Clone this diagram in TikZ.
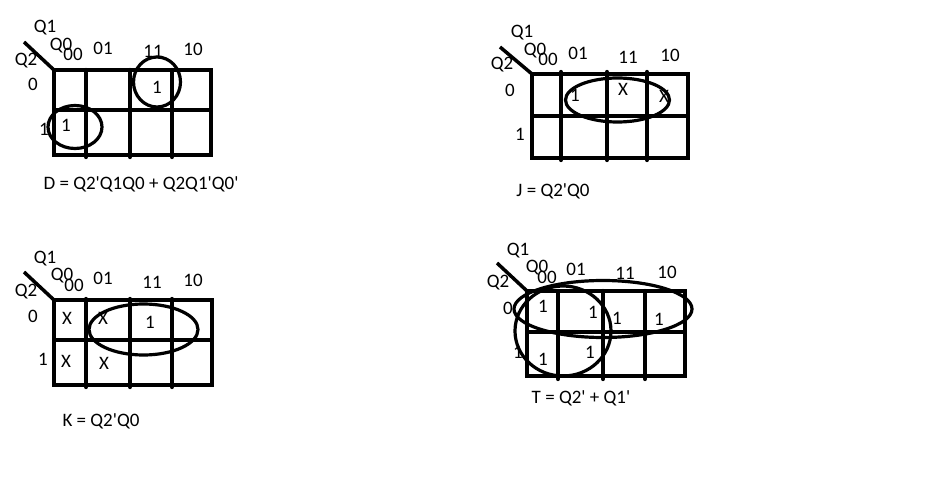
\documentclass[tikz,border=0pt]{standalone}
\usepackage{fontspec}
\setmainfont{Carlito}[Ligatures=TeXOff]
\begin{document}
\begin{tikzpicture}[x=1pt,y=-1pt,
  lbl/.style={inner sep=0pt,anchor=center,font=\fontsize{19}{22}\selectfont},
  grid/.style={line width=4.3pt},
  loop/.style={line width=3.2pt}]
\useasboundingbox[fill=white] (0,0) rectangle (946,484);
% ---------- D map ----------
\draw[grid] (54,70) rectangle (211,155);
\draw[grid] (54,110) -- (211,110);
\foreach \x in {86,130,172} \draw[grid,line cap=round] (\x,70) -- (\x,157);
\draw[line width=3.5pt] (24,42) -- (54,70);
\node[lbl] (d1) at (45,28) {Q1};
\node[lbl] (d2) at (61,46) {Q0};
\node[lbl] (d3) at (26,61) {Q2};
\node[lbl] (d4) at (73,54) {00};
\node[lbl] (d5) at (103,48) {01};
\node[lbl] (d6) at (153,51) {11};
\node[lbl] (d7) at (193,49) {10};
\node[lbl] (d8) at (33,84) {0};
\node[lbl] (d9) at (44,129) {1};
\node[lbl] (d10) at (157,87) {1};
\node[lbl] (d11) at (66,125) {1};
\draw[loop] (157,82) ellipse [x radius=23.5, y radius=25];
\draw[loop] (75,127) ellipse [x radius=27, y radius=21.5];
\node[lbl] (deq) at (141,184) {D = Q2'Q1Q0 + Q2Q1'Q0'};
% ---------- J map ----------
\draw[grid] (532,74) rectangle (688,158);
\draw[grid] (532,116) -- (688,116);
\foreach \x in {561,607,647} \draw[grid,line cap=round] (\x,72) -- (\x,160);
\draw[line width=3.5pt] (500,47) -- (532,74);
\node[lbl] (j1) at (522,33) {Q1};
\node[lbl] (j2) at (535,51) {Q0};
\node[lbl] (j3) at (502,65) {Q2};
\node[lbl] (j4) at (548,59) {00};
\node[lbl] (j5) at (578,53) {01};
\node[lbl] (j6) at (628,57) {11};
\node[lbl] (j7) at (670,55) {10};
\node[lbl] (j8) at (510,90) {0};
\node[lbl] (j9) at (520,134) {1};
\node[lbl] (j10) at (575,95) {1};
\node[lbl] (j11) at (623,89) {X};
\node[lbl] (j12) at (664,96) {X};
\draw[loop] (617.5,100) ellipse [x radius=52, y radius=22];
\node[lbl] (jeq) at (553,191) {J = Q2'Q0};
% ---------- K map ----------
\draw[grid] (54,300) rectangle (212,385);
\draw[grid] (54,340) -- (212,340);
\foreach \x in {86,130,172} \draw[grid,line cap=round] (\x,299) -- (\x,387);
\draw[line width=3.5pt] (24,272) -- (54,300);
\node[lbl] (k1) at (45,259) {Q1};
\node[lbl] (k2) at (62,276) {Q0};
\node[lbl] (k3) at (26,292) {Q2};
\node[lbl] (k4) at (74,285) {00};
\node[lbl] (k5) at (103,278) {01};
\node[lbl] (k6) at (152,282) {11};
\node[lbl] (k7) at (193,280) {10};
\node[lbl] (k8) at (33,316) {0};
\node[lbl] (k9) at (43,359) {1};
\node[lbl] (k10) at (67,318) {X};
\node[lbl] (k11) at (103,318) {X};
\node[lbl] (k12) at (150,322) {1};
\node[lbl] (k13) at (66,361) {X};
\node[lbl] (k14) at (104,363) {X};
\draw[loop] (143.5,329.5) ellipse [x radius=54.5, y radius=25.5];
\node[lbl] (keq) at (101,421) {K = Q2'Q0};
% ---------- T map ----------
\draw[grid] (527,291) rectangle (685,376);
\draw[grid] (527,332) -- (685,332);
\foreach \x in {558,603,645} \draw[grid,line cap=round] (\x,291) -- (\x,379);
\draw[line width=3.5pt] (497,263) -- (527,291);
\node[lbl] (t1) at (518,251) {Q1};
\node[lbl] (t2) at (537,268) {Q0};
\node[lbl] (t3) at (498,283) {Q2};
\node[lbl] (t4) at (547,277) {00};
\node[lbl] (t5) at (576,269) {01};
\node[lbl] (t6) at (625,273) {11};
\node[lbl] (t7) at (667,272) {10};
\node[lbl] (t8) at (508,308) {0};
\node[lbl] (t9) at (518,352) {1};
\node[lbl] (t10) at (543,306) {1};
\node[lbl] (t11) at (593,312) {1};
\node[lbl] (t12) at (617,318) {1};
\node[lbl] (t13) at (659,319) {1};
\node[lbl] (t14) at (543,359) {1};
\node[lbl] (t15) at (590,352) {1};
\draw[loop] (603,309) ellipse [x radius=89, y radius=28.5];
\draw[loop] (563,331) ellipse [x radius=48, y radius=45];
\node[lbl] (teq) at (581,398) {T = Q2' + Q1'};
\end{tikzpicture}
\end{document}
